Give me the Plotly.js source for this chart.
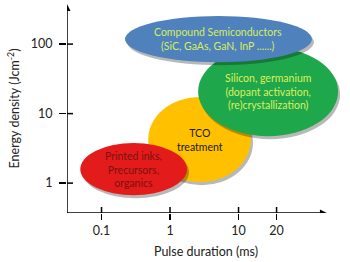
<!DOCTYPE html>
<html>
<head>
<meta charset="utf-8">
<script src="https://cdn.plot.ly/plotly-3.0.1.min.js"></script>
<style>html,body{margin:0;padding:0;background:#fff;}#chart{width:350px;height:262px;}</style>
</head>
<body>
<div id="chart"></div>
<script>
// Regions (schematic): pulse duration range (ms) and energy density range (J/cm2)
const regionNames = ['TCO<br>treatment', 'Printed inks,<br>Precursors,<br>organics', 'Silicon, germanium<br>(dopant activation,<br>(re)crystallization)', 'Compound Semiconductors<br>(SiC, GaAs, GaN, InP ......)'];
const durMin = [0.48, 0.049, 2.57, 0.22];
const durMax = [15.2, 1.77, 284, 118];
const enMin = [1.03, 0.67, 4.74, 55];
const enMax = [17.3, 3.77, 90.6, 253];
const fillColors = ['#FFC000', '#E41B1B', '#1FA84B', '#4F81BD'];
const textColors = ['#1a1a1a', '#7a1212', '#dcef5a', '#d6ee5e'];
// Axis ticks (schematic axis, positions in decades as drawn)
const xTickPos = [-1, 0, 1, 1.555];
const xTickText = ['0.1', '1', '10', '20'];
const yTickPos = [0, 1, 2];
const yTickText = ['1', '10', '100'];

const xRange = [-1.504, 2.554];
const yRange = [-0.43, 2.577];
const xArrowEnd = 2.29;
const pxX = 68.5, pxY = 69.5;

const shapes = [];
const annotations = [];
for (let i = 0; i < regionNames.length; i++) {
  const x0 = Math.log10(durMin[i]), x1 = Math.log10(durMax[i]);
  const y0 = Math.log10(enMin[i]), y1 = Math.log10(enMax[i]);
  const dx = 2 / pxX, dy = 3 / pxY;
  shapes.push({type: 'circle', xref: 'x', yref: 'y', x0: x0 + dx, x1: x1 + dx, y0: y0 - dy, y1: y1 - dy,
    fillcolor: 'rgba(0,0,0,0.28)', line: {width: 0}, layer: 'above'});
  shapes.push({type: 'circle', xref: 'x', yref: 'y', x0: x0, x1: x1, y0: y0, y1: y1,
    fillcolor: fillColors[i], line: {width: 0}, layer: 'above'});
  annotations.push({x: (x0 + x1) / 2, y: (y0 + y1) / 2, xref: 'x', yref: 'y', text: regionNames[i],
    showarrow: false, font: {family: 'Lato', size: 10.5, color: textColors[i]}});
}
// axis lines
shapes.push({type: 'line', xref: 'x', yref: 'y', x0: xRange[0], x1: xArrowEnd - 4 / pxX, y0: yRange[0], y1: yRange[0],
  line: {color: '#000', width: 1.5}});
shapes.push({type: 'line', xref: 'x', yref: 'y', x0: xRange[0], x1: xRange[0], y0: yRange[0], y1: yRange[1] - 4 / pxY,
  line: {color: '#000', width: 1.5}});
// arrowheads
shapes.push({type: 'path', xref: 'x', yref: 'y', xsizemode: 'pixel', ysizemode: 'pixel', xanchor: xArrowEnd, yanchor: yRange[0],
  path: 'M 0 0 L -7 3.5 L -7 -3.5 Z', fillcolor: '#000', line: {width: 0}});
shapes.push({type: 'path', xref: 'x', yref: 'y', xsizemode: 'pixel', ysizemode: 'pixel', xanchor: xRange[0], yanchor: yRange[1],
  path: 'M 0 0 L -3.5 -7 L 3.5 -7 Z', fillcolor: '#000', line: {width: 0}});
// inner halves of tick marks
xTickPos.forEach(v => shapes.push({type: 'line', xref: 'x', yref: 'y', ysizemode: 'pixel', yanchor: yRange[0],
  x0: v, x1: v, y0: 0, y1: 6, line: {color: '#000', width: 1.5}}));
yTickPos.forEach(v => shapes.push({type: 'line', xref: 'x', yref: 'y', xsizemode: 'pixel', xanchor: xRange[0],
  x0: 0, x1: 6, y0: v, y1: v, line: {color: '#000', width: 1.5}}));

const layout = {
  width: 350, height: 262,
  margin: {l: 67, r: 5, t: 4, b: 49},
  paper_bgcolor: '#fff', plot_bgcolor: '#fff',
  showlegend: false,
  font: {family: 'Lato', color: '#222'},
  xaxis: {range: xRange, showgrid: false, zeroline: false, showline: false,
    tickvals: xTickPos, ticktext: xTickText, ticks: 'outside', ticklen: 6, tickwidth: 1.5, tickcolor: '#000',
    tickfont: {family: 'Lato', size: 12.5, color: '#222'},
    title: {text: 'Pulse duration (ms)', font: {family: 'Lato', size: 12.5, color: '#222'}, standoff: 10}},
  yaxis: {range: yRange, showgrid: false, zeroline: false, showline: false,
    tickvals: yTickPos, ticktext: yTickText, ticks: 'outside', ticklen: 7, tickwidth: 1.5, tickcolor: '#000',
    ticklabelstandoff: 4,
    tickfont: {family: 'Lato', size: 12.5, color: '#222'},
    title: {text: 'Energy density (Jcm<sup>-2</sup>)', font: {family: 'Lato', size: 12.5, color: '#222'}, standoff: 8}},
  shapes: shapes,
  annotations: annotations
};
Plotly.newPlot('chart', [], layout, {staticPlot: true, displayModeBar: false});
</script>
</body>
</html>
